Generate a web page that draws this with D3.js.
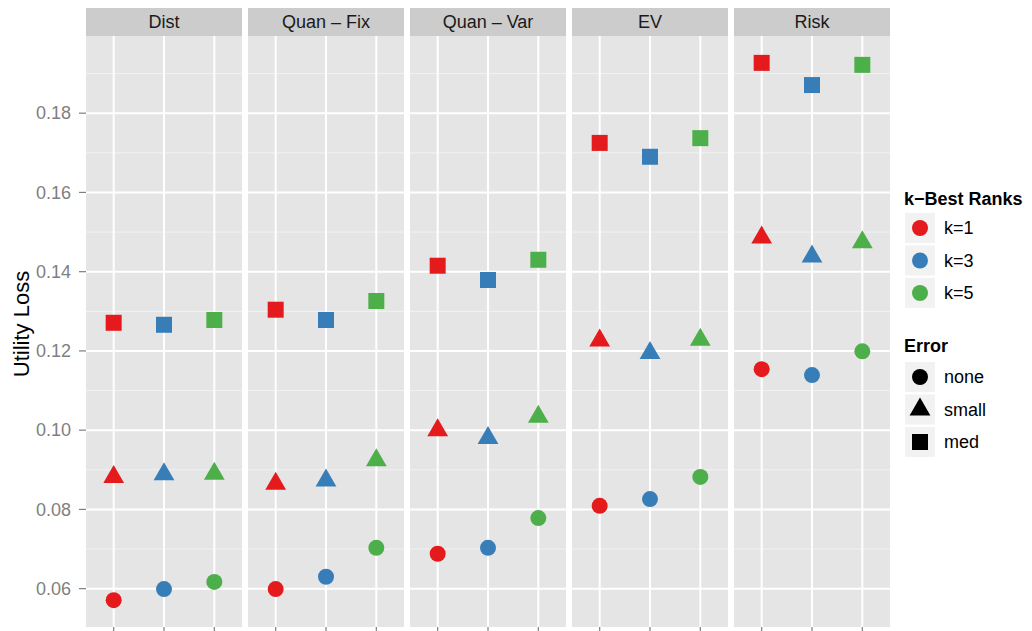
<!DOCTYPE html>
<html>
<head>
<meta charset="utf-8">
<script src="https://cdn.jsdelivr.net/npm/d3@7"></script>
<style>
  html, body { margin: 0; padding: 0; background: #ffffff; }
  svg { display: block; font-family: "Liberation Sans", Arial, Helvetica, sans-serif; }
</style>
</head>
<body>
<svg id="chart" width="1032" height="631"></svg>
<script>
// Facets (strip labels), colour groups and shape groups
const methods = ["Dist", "Quan \u2013 Fix", "Quan \u2013 Var", "EV", "Risk"];
const ranks = ["k=1", "k=3", "k=5"];
const errors = ["none", "small", "med"];

// Utility loss per method, one value per rank (k=1, k=3, k=5)
const lossNone = [
  [0.0571, 0.0599, 0.0617],
  [0.0599, 0.0630, 0.0703],
  [0.0688, 0.0703, 0.0778],
  [0.0809, 0.0826, 0.0882],
  [0.1154, 0.1139, 0.1199]
];
const lossSmall = [
  [0.0882, 0.0889, 0.0890],
  [0.0865, 0.0873, 0.0924],
  [0.1000, 0.0980, 0.1034],
  [0.1226, 0.1195, 0.1228],
  [0.1486, 0.1438, 0.1474]
];
const lossMed = [
  [0.1271, 0.1266, 0.1278],
  [0.1304, 0.1278, 0.1326],
  [0.1415, 0.1379, 0.1430],
  [0.1725, 0.1690, 0.1737],
  [0.1927, 0.1871, 0.1922]
];

const yTicks = [0.06, 0.08, 0.10, 0.12, 0.14, 0.16, 0.18];
const yMinor = [0.07, 0.09, 0.11, 0.13, 0.15, 0.17, 0.19];

// long-format rows
const lossByError = { none: lossNone, small: lossSmall, med: lossMed };
const rows = [];
methods.forEach((m, mi) => {
  errors.forEach(e => {
    ranks.forEach((k, ki) => {
      rows.push({ method: m, rank: k, error: e, loss: lossByError[e][mi][ki] });
    });
  });
});

const svg = d3.select("#chart");

// layout
const panelLeft = 86, panelW = 156, panelGap = 6;
const stripTop = 8, stripH = 28;
const panelTop = stripTop + stripH, panelBottom = 627;

const colour = d3.scaleOrdinal().domain(ranks).range(["#E41A1C", "#377EB8", "#4DAF4A"]);
const shape = d3.scaleOrdinal().domain(errors)
  .range([d3.symbolCircle, d3.symbolTriangle, d3.symbolSquare]);
const shapeSize = { none: Math.PI * 64, small: 36 * 3 * Math.sqrt(3), med: 256 };

const ext = d3.extent(rows, d => d.loss);
const pad = (ext[1] - ext[0]) * 0.05;
const y = d3.scaleLinear().domain([ext[0] - pad, ext[1] + pad]).range([panelBottom, panelTop]);
const x = d3.scalePoint().domain(ranks).range([0, panelW]).padding(0.55);
const facetX = d3.scaleBand().domain(methods)
  .range([panelLeft, panelLeft + methods.length * panelW + (methods.length - 1) * panelGap])
  .paddingInner(panelGap / (panelW + panelGap));

const sym = d3.symbol();

methods.forEach(m => {
  const g = svg.append("g").attr("transform", `translate(${facetX(m)},0)`);
  // strip
  g.append("rect").attr("x", 0).attr("y", stripTop).attr("width", panelW).attr("height", stripH)
    .attr("fill", "#cccccc");
  g.append("text").attr("x", panelW / 2).attr("y", stripTop + stripH / 2)
    .attr("dy", "0.35em").attr("text-anchor", "middle")
    .attr("font-size", 18).attr("fill", "#1a1a1a").text(m);
  // panel background
  g.append("rect").attr("x", 0).attr("y", panelTop).attr("width", panelW)
    .attr("height", panelBottom - panelTop).attr("fill", "#e5e5e5");
  // minor grid
  g.selectAll(".minor").data(yMinor.filter(v => y(v) > panelTop && y(v) < panelBottom)).join("line")
    .attr("x1", 0).attr("x2", panelW).attr("y1", d => y(d)).attr("y2", d => y(d))
    .attr("stroke", "#f2f2f2").attr("stroke-width", 1);
  // major grid
  g.selectAll(".major").data(yTicks).join("line")
    .attr("x1", 0).attr("x2", panelW).attr("y1", d => y(d)).attr("y2", d => y(d))
    .attr("stroke", "#ffffff").attr("stroke-width", 2);
  g.selectAll(".vgrid").data(ranks).join("line")
    .attr("x1", d => x(d)).attr("x2", d => x(d)).attr("y1", panelTop).attr("y2", panelBottom)
    .attr("stroke", "#ffffff").attr("stroke-width", 2);
  // x ticks (no labels)
  g.selectAll(".xtick").data(ranks).join("line")
    .attr("x1", d => x(d)).attr("x2", d => x(d)).attr("y1", panelBottom).attr("y2", panelBottom + 7)
    .attr("stroke", "#7f7f7f").attr("stroke-width", 1.2);
  // points
  g.selectAll(".pt").data(rows.filter(r => r.method === m)).join("path")
    .attr("transform", d => `translate(${x(d.rank)},${y(d.loss)})`)
    .attr("d", d => sym.type(shape(d.error)).size(shapeSize[d.error])())
    .attr("fill", d => colour(d.rank));
});

// y axis
const yAxis = svg.append("g");
yAxis.selectAll("line").data(yTicks).join("line")
  .attr("x1", panelLeft - 7).attr("x2", panelLeft).attr("y1", d => y(d)).attr("y2", d => y(d))
  .attr("stroke", "#7f7f7f").attr("stroke-width", 1.2);
yAxis.selectAll("text").data(yTicks).join("text")
  .attr("x", 71).attr("y", d => y(d)).attr("dy", "0.35em").attr("text-anchor", "end")
  .attr("font-size", 18).attr("fill", "#7f7f7f").text(d => d3.format(".2f")(d));

svg.append("text").attr("transform", "translate(29,324) rotate(-90)")
  .attr("text-anchor", "middle").attr("font-size", 22).attr("fill", "#000").text("Utility Loss");

// legends
function legend(title, items, titleY, keyY, drawKey) {
  const lg = svg.append("g");
  lg.append("text").attr("x", 904).attr("y", titleY).attr("font-size", 18)
    .attr("font-weight", "bold").attr("fill", "#000").text(title);
  items.forEach((it, i) => {
    const ky = keyY + i * 32.5;
    lg.append("rect").attr("x", 905).attr("y", ky).attr("width", 30).attr("height", 30)
      .attr("fill", "#f2f2f2");
    drawKey(lg, it, 920, ky + 15);
    lg.append("text").attr("x", 944).attr("y", ky + 15).attr("dy", "0.35em")
      .attr("font-size", 18).attr("fill", "#000").text(it);
  });
}
legend("k\u2212Best Ranks", ranks, 205, 213, (lg, it, cx, cy) => {
  lg.append("path").attr("transform", `translate(${cx},${cy})`)
    .attr("d", sym.type(d3.symbolCircle).size(Math.PI * 64)()).attr("fill", colour(it));
});
legend("Error", errors, 352, 362, (lg, it, cx, cy) => {
  lg.append("path").attr("transform", `translate(${cx},${cy})`)
    .attr("d", sym.type(shape(it)).size(shapeSize[it])()).attr("fill", "#000");
});
</script>
</body>
</html>
